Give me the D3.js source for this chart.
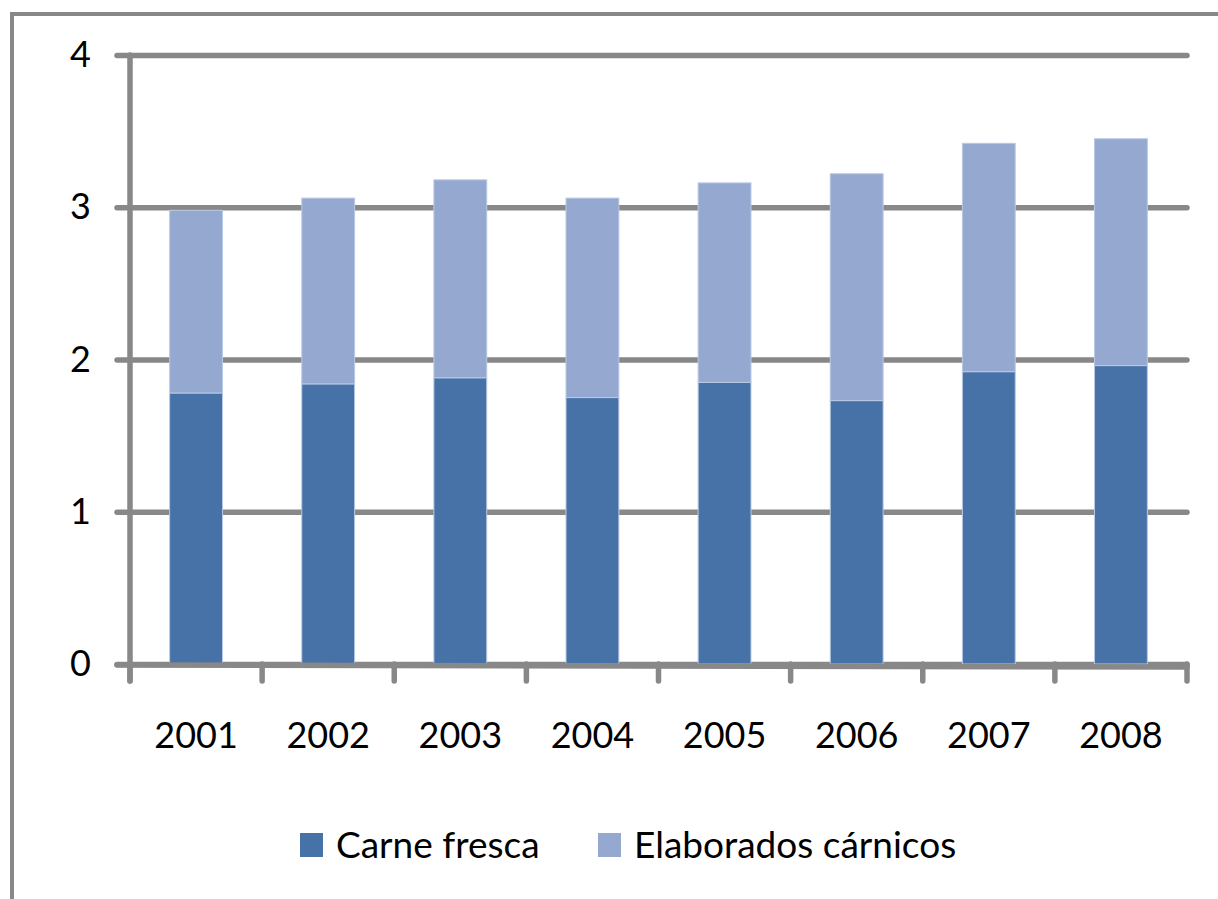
<!DOCTYPE html>
<html>
<head>
<meta charset="utf-8">
<script src="https://cdn.jsdelivr.net/npm/d3@7"></script>
<style>
  body { margin: 0; background: #fff; }
  text { font-family: Lato, "Open Sans", sans-serif; fill: #000; }
</style>
</head>
<body>
<script>
// Chart data
var years = ["2001", "2002", "2003", "2004", "2005", "2006", "2007", "2008"];
var carneFresca = [1.78, 1.84, 1.88, 1.75, 1.85, 1.73, 1.92, 1.96];
var elaborados = [1.20, 1.22, 1.30, 1.31, 1.31, 1.49, 1.50, 1.49];
var seriesNames = ["Carne fresca", "Elaborados cárnicos"];
var seriesColors = ["#4672a7", "#95a9d0"];
var yTicks = [0, 1, 2, 3, 4];

var width = 1218;
var height = 899;
var plotLeft = 130, plotRight = 1187, plotTop = 55, plotBottom = 664;
var gray = "#888888";

var svg = d3.select("body").
    append("svg").
    attr("width", width).
    attr("height", height);

// outer chart frame (runs off the picture on the right and bottom)
svg.append("rect").
    attr("x", 12).
    attr("y", 14).
    attr("width", width).
    attr("height", height).
    attr("fill", "none").
    attr("stroke", gray).
    attr("stroke-width", 4);

// scales
var x = d3.scaleBand().
    domain(years).
    range([plotLeft, plotRight]).
    paddingInner(0.6).
    paddingOuter(0.3);
var y = d3.scaleLinear().
    domain([0, 4]).
    range([plotBottom, plotTop]);

// gridlines + y labels
var yAxis = d3.axisLeft(y).
    tickValues(yTicks).
    tickSize(-(plotRight - 117)).
    tickPadding(26).
    tickFormat(d3.format("d"));
var gy = svg.append("g").
    attr("transform", "translate(117,0)").
    call(yAxis);
gy.select(".domain").remove();
gy.selectAll("line").
    attr("stroke", gray).
    attr("stroke-width", 5.5).
    attr("stroke-linecap", "round");
gy.selectAll("text").
    attr("font-size", "36px").
    attr("font-family", "Lato, 'Open Sans', sans-serif");

// stacked bars
var stackData = years.map(function(d, i) {
    return {year: d, a: carneFresca[i], b: elaborados[i]};
});
var stacked = d3.stack().keys(["a", "b"])(stackData);

svg.selectAll("g.series").
    data(stacked).
    enter().
    append("g").
    attr("class", "series").
    attr("fill", function(d, i) { return seriesColors[i]; }).
    selectAll("rect").
    data(function(d) { return d; }).
    enter().
    append("rect").
    attr("x", function(d) { return x(d.data.year); }).
    attr("y", function(d) { return y(d[1]); }).
    attr("width", x.bandwidth()).
    attr("height", function(d) { return y(d[0]) - y(d[1]); }).
    attr("stroke", "#b9c9e4").
    attr("stroke-width", 1);

// y axis line
svg.append("line").
    attr("x1", plotLeft).attr("x2", plotLeft).
    attr("y1", plotTop).attr("y2", 681).
    attr("stroke", gray).
    attr("stroke-width", 5.5).
    attr("stroke-linecap", "round");

// x axis line and boundary ticks
svg.append("line").
    attr("x1", 117).attr("x2", plotRight).
    attr("y1", plotBottom + 1).attr("y2", plotBottom + 3).
    attr("stroke", gray).
    attr("stroke-width", 5.5).
    attr("stroke-linecap", "round");
svg.selectAll("line.xtick").
    data(d3.range(years.length + 1)).
    enter().
    append("line").
    attr("class", "xtick").
    attr("x1", function(i) { return plotLeft + i * x.step(); }).
    attr("x2", function(i) { return plotLeft + i * x.step(); }).
    attr("y1", plotBottom).
    attr("y2", 681).
    attr("stroke", gray).
    attr("stroke-width", 5.5).
    attr("stroke-linecap", "round");

// x labels
var xAxis = d3.axisBottom(x).tickSize(0).tickPadding(58);
var gx = svg.append("g").
    attr("transform", "translate(0," + plotBottom + ")").
    call(xAxis);
gx.select(".domain").remove();
gx.selectAll("text").
    attr("font-size", "36px").
    attr("font-family", "Lato, 'Open Sans', sans-serif");

// legend
var legendX = [300, 598];
var legend = svg.selectAll("g.legend").
    data(seriesNames).
    enter().
    append("g").
    attr("class", "legend").
    attr("transform", function(d, i) { return "translate(" + legendX[i] + ",833)"; });
legend.append("rect").
    attr("width", 23).
    attr("height", 24).
    attr("fill", function(d, i) { return seriesColors[i]; });
legend.append("text").
    attr("x", 36).
    attr("y", 25).
    attr("font-size", "37px").
    text(function(d) { return d; });
</script>
</body>
</html>
